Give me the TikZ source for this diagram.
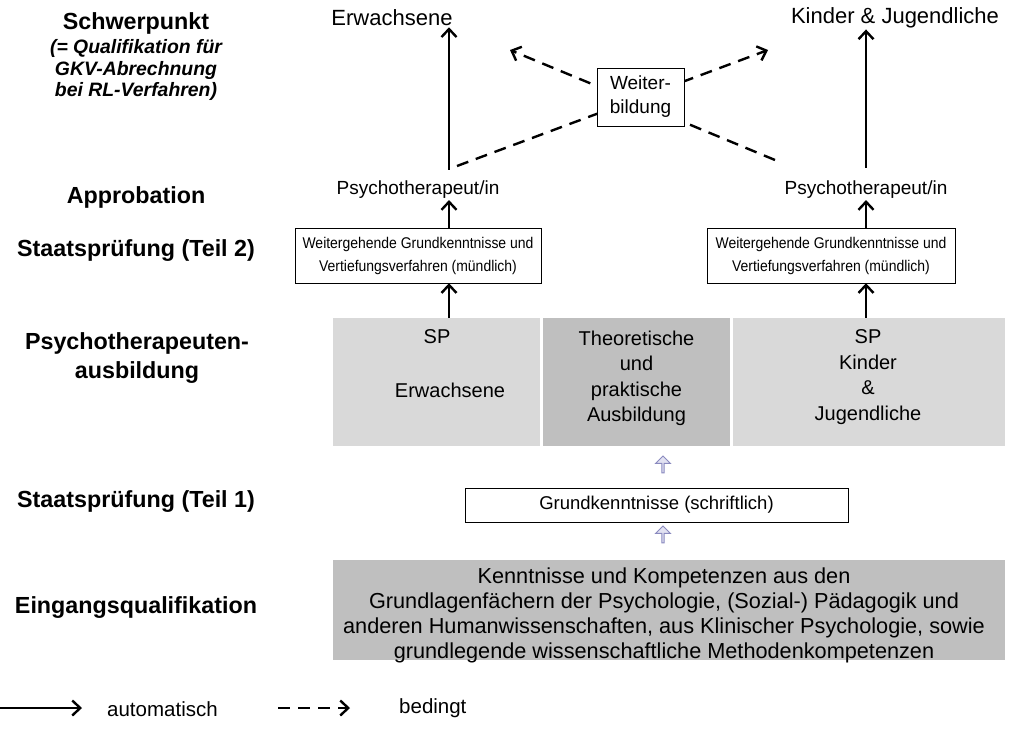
\documentclass[tikz,border=0pt]{standalone}
\usepackage{fontspec}
\setmainfont{Liberation Sans}
\newfontfamily\schmal[FakeStretch=0.9]{Liberation Sans}
\usetikzlibrary{shapes.arrows, arrows.meta}

\definecolor{hellgrau}{HTML}{D9D9D9}
\definecolor{mittelgrau}{HTML}{BFBFBF}
\definecolor{pfeilrand}{HTML}{8A8ABF}
\definecolor{pfeilfuell}{HTML}{E2E2F2}

\begin{document}
\begin{tikzpicture}[x=1pt, y=-1pt,
	stufe/.style={font=\fontsize{23.3}{29}\selectfont\bfseries, align=center},
	klammer/.style={font=\fontsize{19.4}{21.5}\selectfont\bfseries\itshape, align=center},
	txt/.style={font=\fontsize{20}{25.5}\selectfont, align=center, inner sep=1pt},
	kasten/.style={draw, fill=white, align=center, inner sep=0pt},
	block/.style={inner sep=0pt},
	automat/.style={-{Straight Barb[length=8pt, width=15pt]}, line width=2.4pt},
	bedingt/.style={-{Straight Barb[length=8pt, width=15pt]}, line width=2.4pt, dash pattern=on 12pt off 8pt},
	hohl/.style={single arrow, draw=pfeilrand, fill=pfeilfuell, line width=0.9pt, shape border rotate=90,
		minimum height=17pt, minimum width=15pt, single arrow head extend=2.5pt, inner sep=0pt}]
	\useasboundingbox (0,0) rectangle (1016,745);

	\node[stufe] (schwer) at (136,23) {Schwerpunkt};
	\node[klammer] (quali) at (136,70) {(= Qualifikation für\\GKV-Abrechnung\\bei RL-Verfahren)};
	\node[stufe] (approb) at (136,197) {Approbation};
	\node[stufe] (teil2) at (136,251) {Staatsprüfung (Teil 2)};
	\node[stufe] (ausb) at (137,358) {Psychotherapeuten-\\ausbildung};
	\node[stufe] (teil1) at (136,502) {Staatsprüfung (Teil 1)};
	\node[stufe] (eingang) at (136,608) {Eingangsqualifikation};

	\coordinate (achseL) at (449,0);
	\coordinate (achseR) at (866,0);

	\node[txt, font=\fontsize{22}{26}\selectfont] (erw) at (392,18) {Erwachsene};
	\node[txt, font=\fontsize{22}{26}\selectfont] (kju) at (895,18) {Kinder \& Jugendliche};
	\node[txt, font=\fontsize{19}{24}\selectfont] (psyL) at (418,190) {Psychotherapeut/in};
	\node[txt, font=\fontsize{19}{24}\selectfont] (psyR) at (866,190) {Psychotherapeut/in};

	\node[kasten, minimum width=246, minimum height=55, font=\schmal\fontsize{15.5}{23}\selectfont] (weitL) at (418,255.5)
		{Weitergehende Grundkenntnisse und\\Vertiefungsverfahren (mündlich)};
	\node[kasten, minimum width=248, minimum height=55, font=\schmal\fontsize{15.5}{23}\selectfont] (weitR) at (831,255.5)
		{Weitergehende Grundkenntnisse und\\Vertiefungsverfahren (mündlich)};

	\node[block, fill=hellgrau, minimum width=207, minimum height=128] (spE) at (436.5,382) {};
	\node[block, fill=mittelgrau, minimum width=187, minimum height=128] (theo) at (636.5,382) {};
	\node[block, fill=hellgrau, minimum width=272, minimum height=128] (spK) at (869,382) {};
	\node[txt] (spEa) at (437,337) {SP};
	\node[txt] (spEb) at (450,390) {Erwachsene};
	\node[txt] (theoT) at (636.5,378.5) {Theoretische\\und\\praktische\\Ausbildung};
	\node[txt] (spKT) at (868,377) {SP\\Kinder\\\&\\Jugendliche};

	\node[kasten, minimum width=383, minimum height=34, font=\fontsize{18.5}{22}\selectfont] (grund) at (656.5,505)
		{Grundkenntnisse (schriftlich)};

	\node[block, fill=mittelgrau, minimum width=672, minimum height=100] (eing) at (669,610) {};
	\node[txt, font=\fontsize{21.7}{25}\selectfont] (eingT) at (664,615)
		{Kenntnisse und Kompetenzen aus den\\Grundlagenfächern der Psychologie, (Sozial-) Pädagogik und\\anderen Humanwissenschaften, aus Klinischer Psychologie, sowie\\grundlegende wissenschaftliche Methodenkompetenzen};

	\node[hohl] (pfeilA) at (663,465) {};
	\node[hohl] (pfeilB) at (663,535) {};

	\draw[automat] ([yshift=10pt]psyL.north -| achseL) -- (erw.south -| achseL);
	\draw[automat] ([yshift=12pt]psyR.north -| achseR) -- (kju.south -| achseR);
	\draw[automat] (weitL.north -| achseL) -- (psyL.south -| achseL);
	\draw[automat] (weitR.north -| achseR) -- (psyR.south -| achseR);
	\draw[automat] (spE.north -| achseL) -- (weitL.south -| achseL);
	\draw[automat] (spK.north -| achseR) -- (weitR.south -| achseR);

	\coordinate (dLs) at (457,166);
	\coordinate (dLe) at (768,50);
	\coordinate (dRs) at (775,160);
	\coordinate (dRe) at (510,50);
	\draw[bedingt] (dLs) -- (dLe);
	\draw[bedingt] (dRs) -- (dRe);
	\node[kasten, minimum width=87, minimum height=58, font=\fontsize{19}{24}\selectfont] (weiter) at (640.5,97) {Weiter-\\bildung};

	\coordinate (legA) at (0,708);
	\coordinate (legB) at (82,708);
	\coordinate (legC) at (278,708);
	\coordinate (legD) at (350,708);
	\draw[automat] (legA) -- (legB);
	\node[txt, font=\fontsize{20.5}{24}\selectfont, anchor=west] (legAt) at (106,709) {automatisch};
	\draw[bedingt] (legC) -- (legD);
	\node[txt, font=\fontsize{20.5}{24}\selectfont, anchor=west] (legBt) at (398,708) {bedingt};
\end{tikzpicture}
\end{document}
